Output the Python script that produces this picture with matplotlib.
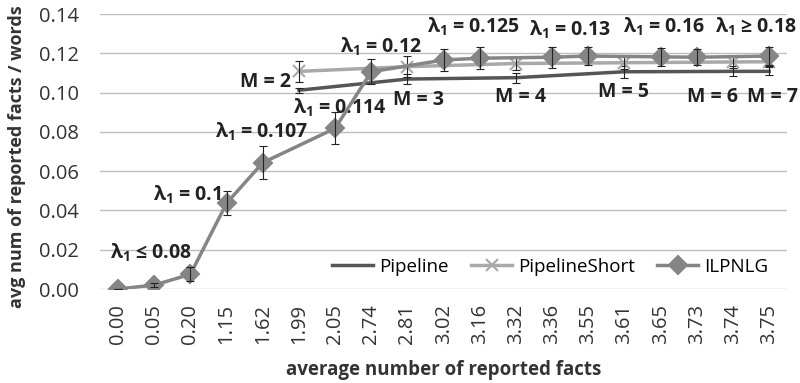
import numpy as np
import matplotlib.pyplot as plt

plt.rcParams['font.family'] = ['Open Sans', 'DejaVu Sans']
plt.rcParams['mathtext.fontset'] = 'custom'
plt.rcParams['mathtext.rm'] = 'Open Sans'
plt.rcParams['mathtext.bf'] = 'Open Sans:bold'

# x axis categories: average number of reported facts
facts = ['0.00', '0.05', '0.20', '1.15', '1.62', '1.99', '2.05', '2.74', '2.81', '3.02',
         '3.16', '3.32', '3.36', '3.55', '3.61', '3.65', '3.73', '3.74', '3.75']

nan = np.nan
pipeline = [nan, nan, nan, nan, nan, 0.1012, nan, nan, 0.1069, nan,
            nan, 0.1076, nan, nan, 0.1106, nan, nan, 0.1108, 0.1108]
pipeline_err = [nan, nan, nan, nan, nan, 0.0012, nan, nan, 0.0025, nan,
                nan, 0.0025, nan, nan, 0.003, nan, nan, 0.0025, 0.002]

pipeline_short = [nan, nan, nan, nan, nan, 0.1108, nan, nan, 0.1132, nan,
                  nan, 0.1148, nan, nan, 0.1152, nan, nan, 0.1156, 0.1157]
pipeline_short_err = [nan, nan, nan, nan, nan, 0.0055, nan, nan, 0.0055, nan,
                      nan, 0.0035, nan, nan, 0.003, nan, nan, 0.003, 0.002]

ilpnlg = [0.000, 0.002, 0.0075, 0.0437, 0.0643, nan, 0.0818, 0.1106, nan, 0.1166,
          0.1175, nan, 0.1180, 0.1186, nan, 0.1182, 0.1180, nan, 0.1186]
ilpnlg_err = [0.0, 0.001, 0.0036, 0.006, 0.0083, nan, 0.0082, 0.0064, nan, 0.0055,
              0.0055, nan, 0.0053, 0.0047, nan, 0.0045, 0.0042, nan, 0.0044]

# lambda labels for the ILPNLG points, M labels for the pipeline
lambda_labels = [r'λ$_\mathbf{1}$ ≤ 0.08', r'λ$_\mathbf{1}$ = 0.1', r'λ$_\mathbf{1}$ = 0.107',
                 r'λ$_\mathbf{1}$ = 0.114', r'λ$_\mathbf{1}$ = 0.12', r'λ$_\mathbf{1}$ = 0.125',
                 r'λ$_\mathbf{1}$ = 0.13', r'λ$_\mathbf{1}$ = 0.16', r'λ$_\mathbf{1}$ ≥ 0.18']
lambda_pos = [(-0.22, 0.0183), (0.97, 0.0478), (2.68, 0.080), (4.84, 0.0921), (6.14, 0.1232),
              (8.54, 0.1334), (11.36, 0.1318), (13.96, 0.1334), (16.5, 0.1334)]
m_labels = ['M = 2', 'M = 3', 'M = 4', 'M = 5', 'M = 6', 'M = 7']
m_pos = [(3.37, 0.1054), (7.6, 0.0962), (10.42, 0.0977), (13.27, 0.1003),
         (15.73, 0.0977), (17.39, 0.0977)]


def draw_series(ax, values, errors, color, marker, ms, label, z):
    values = np.array(values)
    errors = np.array(errors)
    idx = np.flatnonzero(~np.isnan(values))
    ax.plot(idx, values[idx], color=color, lw=2.5, marker=marker, ms=ms,
            mew=1.5, label=label, zorder=z)
    ax.errorbar(idx, values[idx], yerr=errors[idx], fmt='none', ecolor='#222222',
                elinewidth=0.8, capsize=3, capthick=0.8, zorder=z + 0.5)


fig = plt.figure(figsize=(8, 3.83), dpi=100)
ax = fig.add_axes([0.125, 0.2454, 0.859, 0.718])

draw_series(ax, pipeline, pipeline_err, '#555555', None, 0, 'Pipeline', 3)
draw_series(ax, pipeline_short, pipeline_short_err, '#a9a9a9', 'x', 8, 'PipelineShort', 4)
draw_series(ax, ilpnlg, ilpnlg_err, '#858585', 'D', 9, 'ILPNLG', 5)

ax.set_xlim(-0.5, len(facts) - 0.5)
ax.set_ylim(0, 0.14)
ax.set_yticks(np.arange(0, 0.141, 0.02))
ax.set_yticklabels([f'{v:.2f}' for v in np.arange(0, 0.141, 0.02)], fontsize=14.5, color='#333333')
ax.set_xticks(range(len(facts)))
ax.set_xticklabels(facts, rotation=90, fontsize=14.5, color='#333333')
ax.tick_params(axis='x', length=0, pad=11)
ax.tick_params(axis='y', length=0, pad=15)
ax.grid(axis='y', color='#bdbdbd', lw=1)
ax.set_axisbelow(True)
for s in ax.spines.values():
    s.set_visible(False)

ax.set_xlabel('average number of reported facts', fontsize=13.5, fontweight='bold',
              color='#333333', labelpad=11)
ax.set_ylabel('avg num of reported facts / words', fontsize=13, fontweight='bold', color='#333333')
ax.yaxis.set_label_coords(-0.108, 0.48)

for text, (x, y) in zip(lambda_labels, lambda_pos):
    ax.text(x, y, text, fontsize=14, fontweight='bold', color='#222222', ha='left', va='center')
for text, (x, y) in zip(m_labels, m_pos):
    ax.text(x, y, text, fontsize=14, fontweight='bold', color='#222222', ha='left', va='center')

ax.legend(loc='center', bbox_to_anchor=(0.655, 0.08), ncol=3, frameon=False,
          fontsize=13.5, handlelength=2.2, columnspacing=1.2, handletextpad=0.3)

fig.savefig('out.png', dpi=100)
